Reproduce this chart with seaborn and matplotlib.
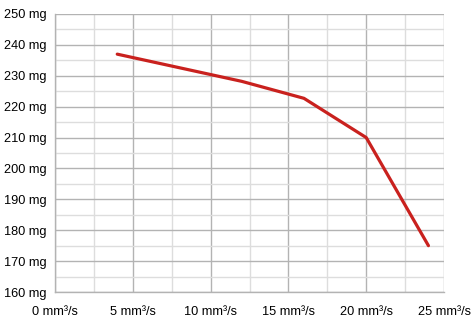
import matplotlib
matplotlib.use("Agg")
import matplotlib.pyplot as plt
import seaborn as sns
import pandas as pd
from matplotlib.ticker import MultipleLocator, FuncFormatter

flow = [4, 8, 12, 16, 20, 24]
mass = [237, 232.6, 228.2, 222.7, 210, 175]

sns.set_theme(style="white")
plt.rcParams['font.family'] = ['Liberation Sans', 'DejaVu Sans']

df = pd.DataFrame({"flow": flow, "mass": mass})
fig = plt.figure(figsize=(4.72, 3.22), dpi=100)
ax = fig.add_axes([55/472, 1-292/322, (444-55)/472, (292-14)/322])
sns.lineplot(data=df, x="flow", y="mass", ax=ax, color="#c9211e", linewidth=2.3)

ax.set_xlim(0, 25)
ax.set_ylim(160, 250)
ax.xaxis.set_major_locator(MultipleLocator(5))
ax.xaxis.set_minor_locator(MultipleLocator(2.5))
ax.yaxis.set_major_locator(MultipleLocator(10))
ax.yaxis.set_minor_locator(MultipleLocator(5))
ax.xaxis.set_major_formatter(FuncFormatter(lambda v, p: f"{v:.0f} mm³/s"))
ax.yaxis.set_major_formatter(FuncFormatter(lambda v, p: f"{v:.0f} mg"))
ax.grid(True, which="major", color="#b3b3b3", linewidth=1)
ax.grid(True, which="minor", color="#dddddd", linewidth=1)
ax.set_axisbelow(True)
for s in ["top", "right"]:
    ax.spines[s].set_visible(False)
for s in ["left", "bottom"]:
    ax.spines[s].set_color("#b3b3b3")
    ax.spines[s].set_linewidth(1)
ax.tick_params(axis="both", which="major", length=4, width=1, color="#b3b3b3",
               labelsize=9.2, labelcolor="black", direction="out")
ax.tick_params(axis="x", pad=6)
ax.tick_params(axis="y", pad=2)
ax.tick_params(axis="both", which="minor", length=0)
ax.set_xlabel("")
ax.set_ylabel("")
fig.savefig("out.png", dpi=100)
